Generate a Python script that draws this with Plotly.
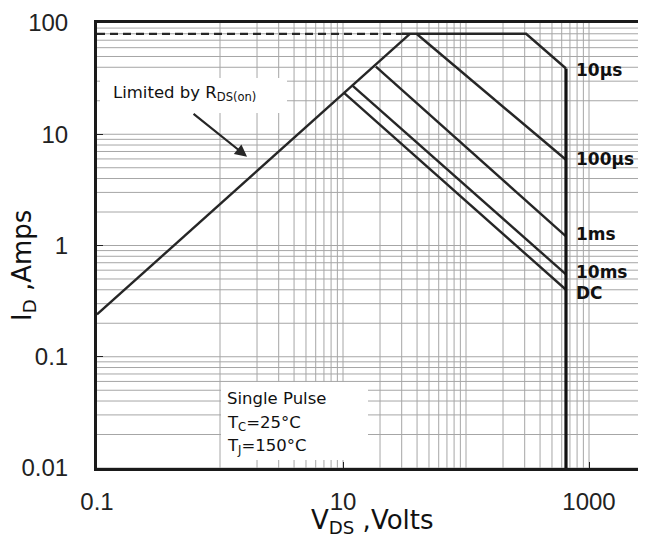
import numpy as np
import plotly.graph_objects as go

# ---- data ----
rds_v = [0.1, 35]
rds_i = [0.24, 80]
limit_v = [0.1, 30]
limit_i = [80, 80]
us10_v = [30, 308, 650]
us10_i = [80, 80, 39]
us100_v = [39.6, 650]
us100_i = [80, 5.9]
ms1_v = [18.5, 650]
ms1_i = [40.5, 1.21]
ms10_v = [12, 650]
ms10_i = [27.2, 0.55]
dc_v = [10.25, 650]
dc_i = [23.4, 0.40]
bv_v = [650, 650]
bv_i = [39, 0.01]

x_tickvals = [0.1, 10, 1000]
x_ticktext = ["0.1", "10", "1000"]
y_tickvals = [0.01, 0.1, 1, 10, 100]
y_ticktext = ["0.01", "0.1", "1", "10", "100"]

curve_labels = [("10µs", us10_v, us10_i, -2), ("100µs", us100_v, us100_i, 1),
                ("1ms", ms1_v, ms1_i, 2), ("10ms", ms10_v, ms10_i, 2), ("DC", dc_v, dc_i, -3)]

OFF = 8  # page body margin
W, H = 646 - OFF, 539 - OFF
L, R, T, B = 97 - OFF, 0, 23 - OFF, 71
pw, ph = W - L - R, H - T - B
PL, PB = 97, 468  # plot left / bottom in screen pixels


def px(xp):
    return (xp - PL) / pw


def py(yp):
    return (PB - yp) / ph


LINE = "#262626"
GRID = "#a6a6a6"
TXT = "#111111"

fig = go.Figure()
fig.add_trace(go.Scatter(x=limit_v, y=limit_i, mode="lines",
                         line=dict(color=LINE, width=2.2, dash="8px,5px")))
for xs, ys in [(rds_v, rds_i), (us10_v, us10_i), (us100_v, us100_i),
               (ms1_v, ms1_i), (ms10_v, ms10_i), (dc_v, dc_i)]:
    fig.add_trace(go.Scatter(x=xs, y=ys, mode="lines",
                             line=dict(color=LINE, width=2.4)))
fig.add_trace(go.Scatter(x=bv_v, y=bv_i, mode="lines",
                         line=dict(color="#111111", width=3.2)))

shapes = []
# vertical grid 1..1000
for k in range(0, 3):
    for m in range(1, 10):
        v = m * 10 ** k
        shapes.append(dict(type="line", xref="x", yref="paper", x0=v, x1=v, y0=0, y1=1,
                           line=dict(color=GRID, width=1), layer="below"))
shapes.append(dict(type="line", xref="x", yref="paper", x0=1000, x1=1000, y0=0, y1=1,
                   line=dict(color=GRID, width=1), layer="below"))
# horizontal grid 0.01..100
for k in range(-2, 2):
    for m in range(1, 10):
        v = m * 10 ** k
        shapes.append(dict(type="line", xref="paper", yref="y", x0=0, x1=1, y0=v, y1=v,
                           line=dict(color=GRID, width=1), layer="below"))
# white boxes behind texts
shapes.append(dict(type="rect", xref="paper", yref="paper", x0=px(100), x1=px(287),
                   y0=py(113), y1=py(78), fillcolor="white", line=dict(width=0), layer="below"))
shapes.append(dict(type="rect", xref="paper", yref="paper", x0=px(221), x1=px(368),
                   y0=py(460), y1=py(382), fillcolor="white", line=dict(width=0), layer="below"))

ann = []
for name, xs, ys, ysh in curve_labels:
    ann.append(dict(x=np.log10(xs[-1]), y=np.log10(ys[-1]), xref="x", yref="y",
                    text=name, showarrow=False, xanchor="left", yanchor="middle",
                    xshift=8, yshift=ysh,
                    font=dict(family="DejaVu Sans", size=17, color=TXT, weight="bold")))
ann.append(dict(x=px(111), y=py(93), xref="paper", yref="paper", xanchor="left", yanchor="middle",
                text="Limited by R<sub>DS(on)</sub>", showarrow=False,
                font=dict(family="DejaVu Sans", size=16.5, color=TXT)))
for txt, yp in [("Single Pulse", 398), ("T<sub>C</sub>=25°C", 423), ("T<sub>J</sub>=150°C", 446)]:
    ann.append(dict(x=px(225), y=py(yp), xref="paper", yref="paper", xanchor="left", yanchor="middle",
                    text=txt, showarrow=False,
                    font=dict(family="DejaVu Sans", size=16.5, color=TXT)))
# arrow
ann.append(dict(x=np.log10(1.66), y=np.log10(6.28), xref="x", yref="y", text="",
                showarrow=True, ax=-55, ay=-44, arrowhead=2, arrowsize=1.1, arrowwidth=2.2,
                arrowcolor="#262626"))
# axis titles
ann.append(dict(x=px(372), y=py(521), xref="paper", yref="paper", xanchor="center", yanchor="middle",
                text="V<sub>DS</sub> ,Volts", showarrow=False,
                font=dict(family="DejaVu Sans", size=26, color=TXT)))
ann.append(dict(x=px(23), y=py(266), xref="paper", yref="paper", xanchor="center", yanchor="middle",
                text="I<sub>D</sub> ,Amps", showarrow=False, textangle=-90,
                font=dict(family="DejaVu Sans", size=26, color=TXT)))

fig.update_layout(
    width=W, height=H, margin=dict(l=L, r=R, t=T, b=B),
    paper_bgcolor="white", plot_bgcolor="white", showlegend=False,
    shapes=shapes, annotations=ann,
    xaxis=dict(type="log", range=[-1, -1 + pw / 123.0], showgrid=False, zeroline=False,
               tickvals=x_tickvals, ticktext=x_ticktext, ticks="inside", ticklen=6,
               tickcolor="#222", showline=True, linecolor="#1a1a1a", linewidth=3, mirror=True,
               ticklabelstandoff=10,
               tickfont=dict(family="Liberation Sans", size=24, color="#222")),
    yaxis=dict(type="log", range=[-2, 2], showgrid=False, zeroline=False,
               tickvals=y_tickvals, ticktext=y_ticktext, ticks="inside", ticklen=6,
               tickcolor="#222", showline=True, linecolor="#1a1a1a", linewidth=3,
               ticklabelstandoff=21,
               tickfont=dict(family="Liberation Sans", size=24, color="#222")),
)

fig.write_html("out.html")
